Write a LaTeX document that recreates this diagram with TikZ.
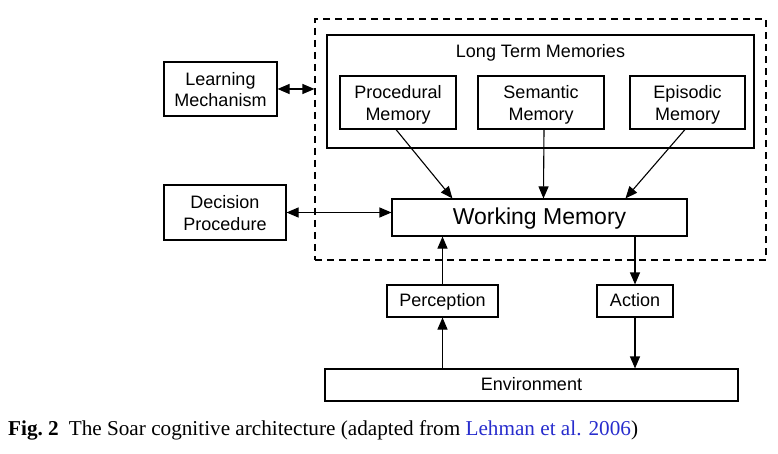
\documentclass[tikz,border=0pt]{standalone}
\usepackage{fontspec}
\setmainfont{Liberation Sans}
\newfontfamily\capfont{Liberation Serif}
\usetikzlibrary{arrows.meta,calc}
\definecolor{linkblue}{RGB}{40,45,205}
\newcommand\twolines[2]{\rule{0pt}{18.5pt}#1\\#2\rule[-4pt]{0pt}{4pt}}
\newcommand\oneline[1]{\rule[-3.7pt]{0pt}{21.7pt}#1}
\begin{document}
\begin{tikzpicture}[x=1pt,y=-1pt,
  box/.style={draw,line width=1.1pt,inner sep=0pt,align=center,font=\fontsize{18}{21.5}\selectfont},
  arr/.style={line width=1.1pt,-{Triangle[length=12pt,width=10pt]}},
  dbl/.style={line width=1.1pt,{Triangle[length=12pt,width=10pt]}-{Triangle[length=12pt,width=10pt]}},
  dashbox/.style={draw,line width=1.1pt,dash pattern=on 7pt off 5pt,inner sep=0pt}]
\useasboundingbox (0,0) rectangle (778,454);
% outer dashed region
\node[dashbox,minimum width=451pt,minimum height=241pt] (core) at (540.5,139.5) {};
% long term memories
\node[box,minimum width=427pt,minimum height=113pt] (ltm) at (540.5,91.5) {};
\node[anchor=base,font=\fontsize{18}{21.5}\selectfont] (ltmlabel) at (540.5,58) {Long Term Memories};
\node[box,minimum width=116pt,minimum height=53pt] (pm) at (398,102.5) {\twolines{Procedural}{Memory}};
\node[box,minimum width=126pt,minimum height=53pt] (sm) at (541,102.5) {\twolines{Semantic}{Memory}};
\node[box,minimum width=115pt,minimum height=53pt] (em) at (687.5,102.5) {\twolines{Episodic}{Memory}};
% working memory
\node[box,minimum width=295pt,minimum height=37pt,font=\fontsize{23}{27}\selectfont] (wm) at (539.5,217.5) {\rule[-4pt]{0pt}{22pt}Working Memory};
% left boxes
\node[box,minimum width=113pt,minimum height=54pt] (lm) at (220.5,89) {\twolines{Learning}{Mechanism}};
\node[box,minimum width=122pt,minimum height=55pt] (dp) at (225,212.5) {\twolines{Decision}{Procedure}};
% bottom boxes
\node[box,minimum width=111pt,minimum height=32pt] (perc) at (442.5,301) {\rule[-3.7pt]{0pt}{18pt}Perception};
\node[box,minimum width=76pt,minimum height=32pt] (act) at (635,301) {\rule[-3.7pt]{0pt}{18pt}Action};
\node[box,minimum width=413pt,minimum height=32pt] (env) at (531.5,385) {\rule[-3.7pt]{0pt}{18pt}Environment};
% connectors
\draw[dbl] (lm.east) -- (lm.east -| core.west);
\draw[dbl] (dp.east) -- (dp.east -| wm.west);
\draw[arr] ($(pm.south)+(-2,0)$) -- ($(wm.north west)+(61,0)$);
\draw[arr] ($(sm.south)+(3,0)$) -- ($(wm.north west)+(152,0)$);
\draw[arr] ($(em.south)+(-2.5,0)$) -- ($(wm.north west)+(234,0)$);
\draw[arr] (perc.north) -- (perc.north |- wm.south);
\draw[arr] (perc.south |- env.north) -- (perc.south);
\draw[arr] (act.north |- wm.south) -- (act.north);
\draw[arr] (act.south) -- (act.south |- env.north);
% caption
\node[anchor=base west,inner sep=0pt,font=\capfont\fontsize{21.2}{25}\selectfont] (cap) at (8,435)
  {\textbf{Fig.~2}\hspace{10pt}The Soar cognitive architecture (adapted from \textcolor{linkblue}{Lehman et al. 2006})};
\end{tikzpicture}
\end{document}
